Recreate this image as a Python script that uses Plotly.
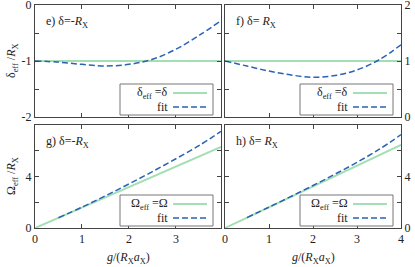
import plotly.graph_objects as go

# ---------------- data ----------------
# panel e: delta = -R_X (top left)
e_ref_x = [0.0, 3.96]
e_ref_y = [-1.0, -1.0]
e_fit_x = [0.0, 0.5, 1.0, 1.5, 2.0, 2.5, 3.0, 3.5, 3.96]
e_fit_y = [-1.0, -1.02, -1.06, -1.09, -1.06, -0.97, -0.79, -0.54, -0.28]

# panel f: delta = R_X (top right)
f_ref_x = [0.0, 4.0]
f_ref_y = [1.0, 1.0]
f_fit_x = [0.0, 0.5, 1.0, 1.5, 2.0, 2.5, 3.0, 3.5, 4.0]
f_fit_y = [1.0, 0.91, 0.82, 0.75, 0.71, 0.74, 0.84, 1.02, 1.29]

# panel g: delta = -R_X (bottom left)
g_ref_x = [0.0, 3.96]
g_ref_y = [0.0, 6.3]
g_fit_x = [0.5, 1.0, 1.5, 2.0, 2.5, 3.0, 3.5, 3.96]
g_fit_y = [0.8, 1.62, 2.5, 3.42, 4.38, 5.38, 6.42, 7.5]

# panel h: delta = R_X (bottom right)
h_ref_x = [0.0, 4.0]
h_ref_y = [0.0, 6.45]
h_fit_x = [0.5, 1.0, 1.5, 2.0, 2.5, 3.0, 3.5, 4.0]
h_fit_y = [0.81, 1.62, 2.45, 3.3, 4.18, 5.1, 6.1, 7.25]

panel_labels = ["e) δ=-<i>R</i><sub>X</sub>", "f) δ= <i>R</i><sub>X</sub>",
                "g) δ=-<i>R</i><sub>X</sub>", "h) δ= <i>R</i><sub>X</sub>"]
legend_top = ["δ<sub>eff</sub> =δ", "fit"]
legend_bot = ["Ω<sub>eff</sub> =Ω", "fit"]

top_ticks_left = [0, -0.5, -1, -1.5, -2]
top_ticktext_left = ["0", " ", "-1", " ", "-2"]
top_ticks_right = [0, 0.5, 1, 1.5, 2]
top_ticktext_right = ["0", " ", "1", " ", "2"]
bot_yticks = [0, 2, 4, 6, 8]
bot_yticktext = ["0", " ", "4", " ", " "]
xticks_left = [0, 1, 2, 3]
xticks_right = [0, 1, 2, 3, 4]

# ---------------- layout helpers ----------------
W, H = 415, 267
def px(x):
    return x / W
def py(y):
    return 1 - y / H

GREEN = "#a3dfb2"
BLUE = "#2a62b5"
FRAME = "#444444"
FONT = "Times New Roman, Liberation Serif, serif"
TXT = "#222222"

# panel pixel boxes (left, right, top, bottom)
boxes = {
    "e": (35, 221, 5, 117),
    "f": (225, 401, 5, 117),
    "g": (35, 221, 125, 228),
    "h": (225, 401, 125, 228),
}

fig = go.Figure()

def add_pair(xa, ya, rx, ry, fx, fy):
    fig.add_trace(go.Scatter(x=rx, y=ry, mode="lines", xaxis=xa, yaxis=ya,
                             line=dict(color=GREEN, width=2), showlegend=False))
    fig.add_trace(go.Scatter(x=fx, y=fy, mode="lines", xaxis=xa, yaxis=ya,
                             line=dict(color=BLUE, width=1.5, dash="6px,3px", shape="spline"),
                             showlegend=False))

add_pair("x", "y", e_ref_x, e_ref_y, e_fit_x, e_fit_y)
add_pair("x2", "y2", f_ref_x, f_ref_y, f_fit_x, f_fit_y)
add_pair("x3", "y3", g_ref_x, g_ref_y, g_fit_x, g_fit_y)
add_pair("x4", "y4", h_ref_x, h_ref_y, h_fit_x, h_fit_y)

axcommon = dict(showline=True, linecolor=FRAME, linewidth=1, mirror="allticks",
                ticks="inside", ticklen=4, tickcolor=FRAME, showgrid=False,
                zeroline=False, ticklabeloverflow="allow",
                tickfont=dict(family=FONT, size=12, color=TXT))

def xdom(k):
    l, r, t, b = boxes[k]
    return [px(l), px(r)]
def ydom(k):
    l, r, t, b = boxes[k]
    return [py(b), py(t)]

fig.update_layout(
    width=W, height=H, margin=dict(l=0, r=0, t=0, b=0, autoexpand=False),
    paper_bgcolor="white", plot_bgcolor="white",
    font=dict(family=FONT, size=12, color=TXT),
    xaxis=dict(domain=xdom("e"), range=[0, 3.96], tickvals=xticks_left, showticklabels=False, anchor="y", **axcommon),
    yaxis=dict(domain=ydom("e"), range=[-2, 0], tickvals=top_ticks_left, ticktext=top_ticktext_left, anchor="x", **axcommon),
    xaxis2=dict(domain=xdom("f"), range=[0, 4], tickvals=xticks_right, showticklabels=False, anchor="y2", **axcommon),
    yaxis2=dict(domain=ydom("f"), range=[0, 2], tickvals=top_ticks_right, ticktext=top_ticktext_right, side="right", anchor="x2", **axcommon),
    xaxis3=dict(domain=xdom("g"), range=[0, 3.96], tickvals=xticks_left, anchor="y3", **axcommon),
    yaxis3=dict(domain=ydom("g"), range=[0, 8], tickvals=bot_yticks, ticktext=bot_yticktext, anchor="x3", **axcommon),
    xaxis4=dict(domain=xdom("h"), range=[0, 4], tickvals=xticks_right, anchor="y4", **axcommon),
    yaxis4=dict(domain=ydom("h"), range=[0, 8], tickvals=bot_yticks, ticktext=bot_yticktext, side="right", anchor="x4", **axcommon),
)

annotations = []
shapes = []

# panel labels
for k, lab in zip(["e", "f", "g", "h"], panel_labels):
    l, r, t, b = boxes[k]
    annotations.append(dict(text=lab, x=px(l + 9), y=py(t + 17), xref="paper", yref="paper",
                            xanchor="left", yanchor="middle", showarrow=False,
                            font=dict(family=FONT, size=12, color=TXT)))

# legends (gnuplot-like: text then sample)
for k in ["e", "f", "g", "h"]:
    l, r, t, b = boxes[k]
    labels = legend_top if k in "ef" else legend_bot
    top = b - 33
    bot = b - 2
    shapes.append(dict(type="rect", xref="paper", yref="paper",
                       x0=px(r - 101), x1=px(r - 8), y0=py(bot), y1=py(top),
                       line=dict(color="#777777", width=1), fillcolor="white", layer="above"))
    rows = [top + 9, top + 23]
    for i, (txt, yy) in enumerate(zip(labels, rows)):
        annotations.append(dict(text=txt, x=px(r - 51), y=py(yy), xref="paper", yref="paper",
                                xanchor="right", yanchor="middle", showarrow=False,
                                font=dict(family=FONT, size=12, color=TXT)))
        shapes.append(dict(type="line", xref="paper", yref="paper",
                           x0=px(r - 48), x1=px(r - 14), y0=py(yy), y1=py(yy), layer="above",
                           line=dict(color=GREEN if i == 0 else BLUE, width=2 if i == 0 else 1.5,
                                     dash="solid" if i == 0 else "6px,3px")))

# axis titles
annotations.append(dict(text="δ<sub>eff</sub> /<i>R</i><sub>X</sub>", x=px(12), y=py(61),
                        xref="paper", yref="paper", textangle=-90, showarrow=False,
                        xanchor="center", yanchor="middle", font=dict(family=FONT, size=12, color=TXT)))
annotations.append(dict(text="Ω<sub>eff</sub> /<i>R</i><sub>X</sub>", x=px(12), y=py(176),
                        xref="paper", yref="paper", textangle=-90, showarrow=False,
                        xanchor="center", yanchor="middle", font=dict(family=FONT, size=12, color=TXT)))
for k in ["g", "h"]:
    l, r, t, b = boxes[k]
    annotations.append(dict(text="<i>g</i>/(<i>R</i><sub>X</sub><i>a</i><sub>X</sub>)", x=px((l + r) / 2), y=py(258),
                            xref="paper", yref="paper", showarrow=False,
                            xanchor="center", yanchor="middle", font=dict(family=FONT, size=12, color=TXT)))

fig.update_layout(annotations=annotations, shapes=shapes)
fig.write_html("out.html", config={"displayModeBar": False},
               post_script="document.body.style.margin='0';document.body.style.overflow='hidden';")
